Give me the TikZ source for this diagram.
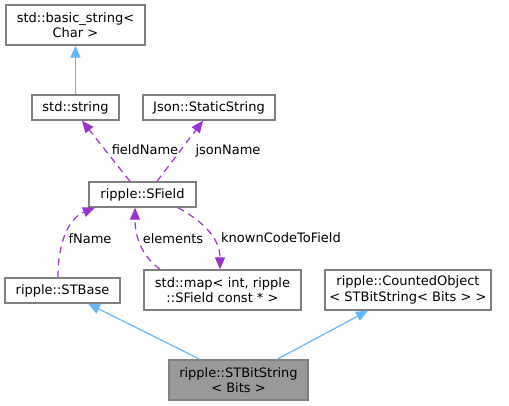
\documentclass[tikz,border=0pt]{standalone}
\usepackage{fontspec}
\setmainfont{DejaVu Sans}
\usetikzlibrary{arrows.meta, positioning}

\definecolor{boxline}{HTML}{7F7F7F}
\definecolor{boxfill}{HTML}{999999}
\definecolor{inherit}{HTML}{63B8FF}
\definecolor{usage}{HTML}{9A32CD}

\begin{document}
\begin{tikzpicture}[
  x=1pt, y=-1pt,
  every node/.style={font=\fontsize{13}{15.5}\selectfont, inner sep=0pt},
  cls/.style={rectangle, draw=boxline, fill=white, line width=1.3pt,
             align=center, minimum height=25pt},
  cls2/.style={cls, minimum height=40pt},
  focus/.style={cls2, fill=boxfill},
  base/.style={draw=inherit, line width=1.2pt, -{Triangle[length=12pt, width=10pt]}},
  member/.style={draw=usage, line width=1.2pt, dash pattern=on 7pt off 5pt,
             -{Triangle[length=12pt, width=10pt]}},
  lab/.style={inner sep=1pt}
]
\useasboundingbox (0,0) rectangle (509,405);

% Classes
\node[cls2, minimum width=139pt] (bstring) at (75.5,25) {std::basic\_string<\\Char >};
\node[cls, minimum width=87pt] (stdstring) at (75.5,107.5) {std::string};
\node[cls, minimum width=132pt] (jsonstr) at (209,107.5) {Json::StaticString};
\node[cls, minimum width=107pt] (sfield) at (142.5,194.5) {ripple::SField};
\node[cls, minimum width=115pt] (stbase) at (62.5,290.5) {ripple::STBase};
\node[cls2, minimum width=157pt] (stdmap) at (222.5,290) {std::map< int, ripple\\::SField const * >};
\node[cls2, minimum width=166pt] (counted) at (408,290) {ripple::CountedObject\\< STBitString< Bits > >};
\node[focus, minimum width=139pt] (bitstr) at (238.5,380) {ripple::STBitString\\< Bits >};

% Inheritance
\draw[base] (stdstring.north) -- (bstring.south);
\draw[base] ([xshift=-38.5pt]bitstr.north) -- ([xshift=25.5pt]stbase.south);
\draw[base] ([xshift=38.5pt]bitstr.north) -- ([xshift=-40pt]counted.south);

% Members
\draw[member] ([xshift=-12.5pt]sfield.north) -- ([xshift=6.5pt]stdstring.south);
\draw[member] ([xshift=14.5pt]sfield.north) -- ([xshift=-6pt]jsonstr.south);
\draw[member] ([xshift=-4.5pt]stbase.north) .. controls +(0,-38) and +(-25,10) .. ([xshift=-47.5pt]sfield.south);
\draw[member] ([xshift=-62.5pt]stdmap.north) .. controls +(-20,-15) and +(0,27) .. ([xshift=-7.5pt]sfield.south);
\draw[member] ([xshift=35.5pt]sfield.south) .. controls +(27,15) and +(0,-30) .. ([xshift=-2.5pt]stdmap.north);

% Labels
\node[lab] (lfield) at (145,150) {fieldName};
\node[lab] (ljson) at (228,151) {jsonName};
\node[lab] (lfname) at (90,239) {fName};
\node[lab] (lelem) at (173,239) {elements};
\node[lab] (lknown) at (281,238) {knownCodeToField};

\end{tikzpicture}
\end{document}
